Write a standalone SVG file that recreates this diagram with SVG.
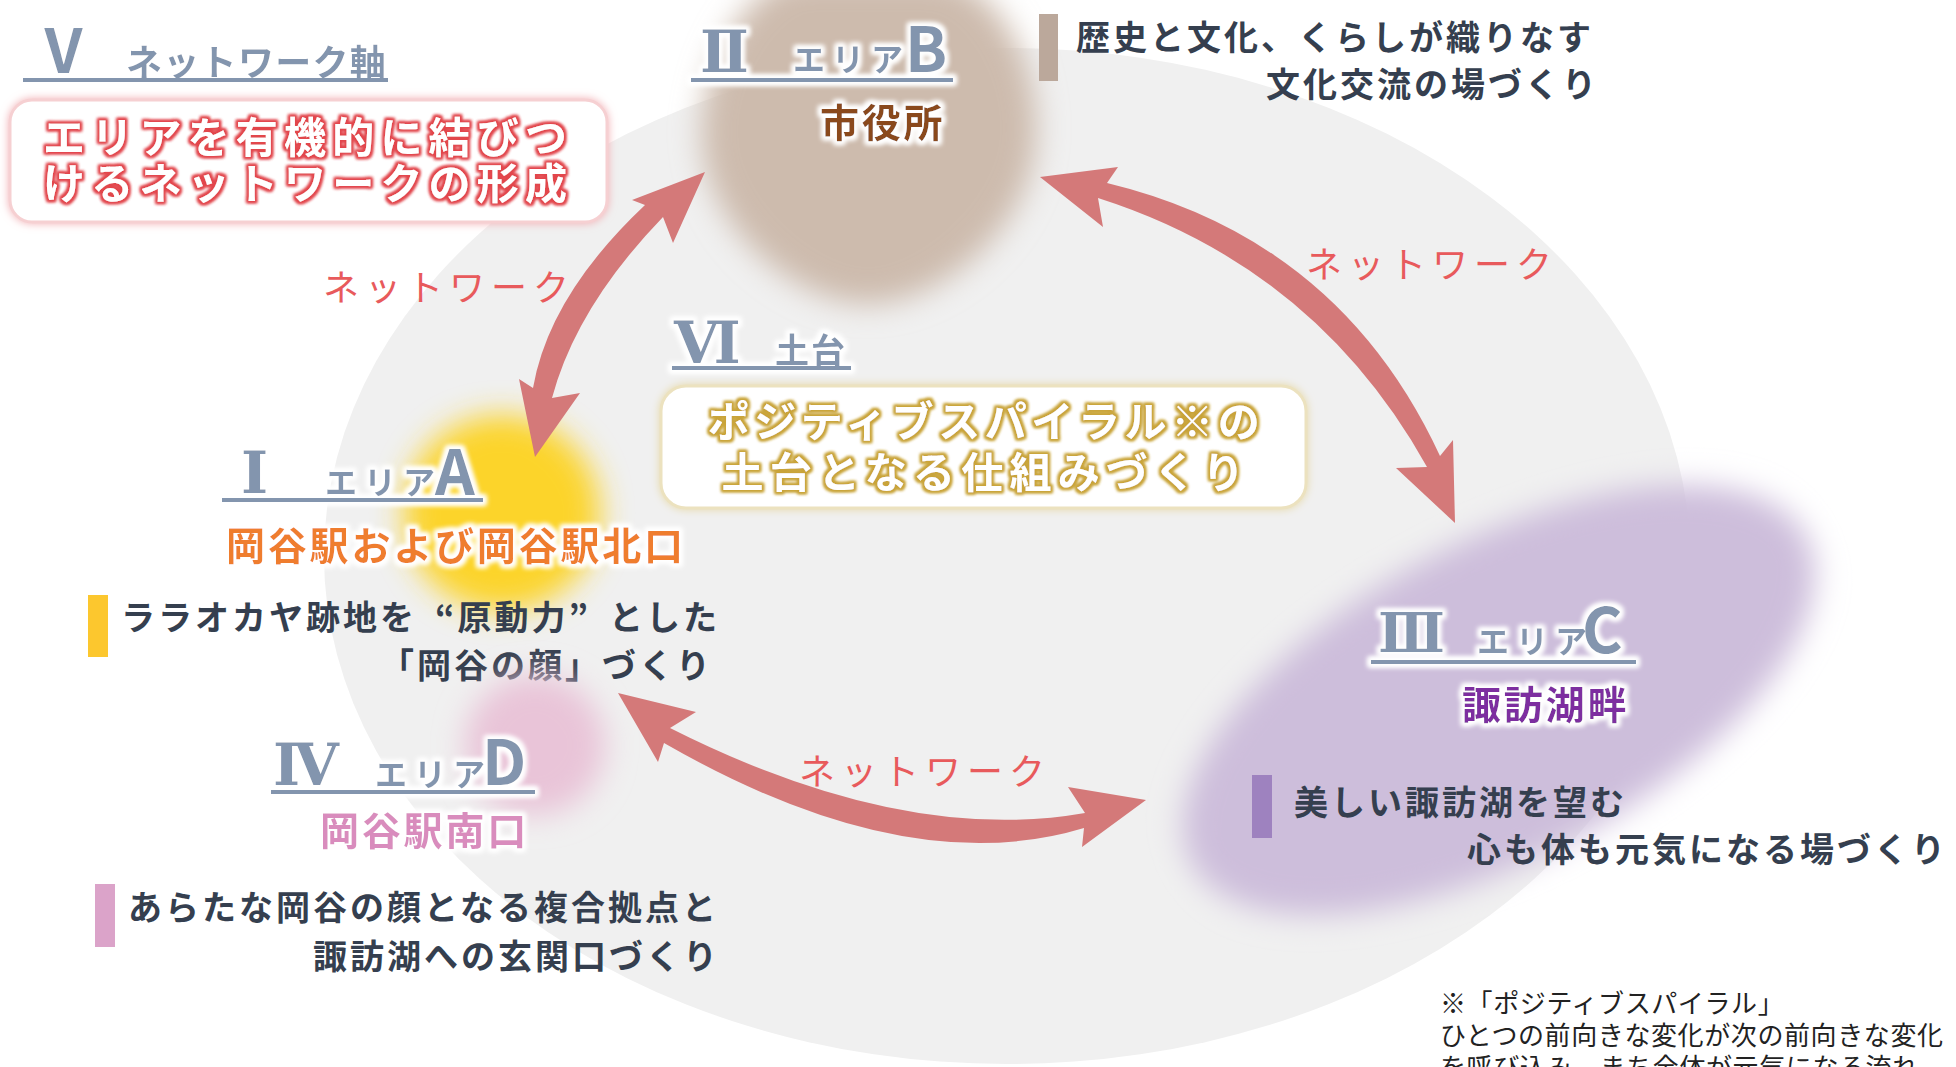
<svg xmlns="http://www.w3.org/2000/svg" width="1956" height="1067" viewBox="0 0 1956 1067">
<defs>
<style>
text{font-family:'Noto Sans CJK JP','Noto Sans',sans-serif}
.hn{font-family:'DejaVu Serif','Noto Sans CJK JP',serif;font-size:58px;fill:#8395ae;font-weight:700}
.hv{font-size:61px;fill:#8395ae;font-weight:700}
.hk{font-size:32px;letter-spacing:7px;fill:#8395ae;font-weight:700}
.hl{font-size:62px;fill:#8395ae;font-weight:700}
.ul{fill:#8395ae}
.desc{font-size:34px;letter-spacing:3px;fill:#353f4f;font-weight:700}
.net{font-size:36px;letter-spacing:6px;fill:#e85a5c;font-weight:400}
.place{font-size:39px;letter-spacing:2.8px;font-weight:700}
.boxtxt{font-size:42px;letter-spacing:6.2px;fill:#ffffff;font-weight:700}
.note{font-size:26px;letter-spacing:0.6px;fill:#222222;font-weight:400}
.arrow{fill:#d47979}
</style>
<filter id="glowW" x="-10%" y="-40%" width="120%" height="180%">
<feMorphology in="SourceAlpha" operator="dilate" radius="2.5" result="d"/>
<feGaussianBlur in="d" stdDeviation="2.5" result="b"/>
<feFlood flood-color="#ffffff"/>
<feComposite in2="b" operator="in" result="g"/>
<feMerge><feMergeNode in="g"/><feMergeNode in="g"/><feMergeNode in="SourceGraphic"/></feMerge>
</filter>
<filter id="glowR" x="-10%" y="-40%" width="120%" height="180%">
<feMorphology in="SourceAlpha" operator="dilate" radius="1.6" result="d"/>
<feGaussianBlur in="d" stdDeviation="1.8" result="b"/>
<feFlood flood-color="#e2464c"/>
<feComposite in2="b" operator="in" result="g"/>
<feMerge><feMergeNode in="g"/><feMergeNode in="g"/><feMergeNode in="SourceGraphic"/></feMerge>
</filter>
<filter id="glowG" x="-10%" y="-40%" width="120%" height="180%">
<feMorphology in="SourceAlpha" operator="dilate" radius="1.6" result="d"/>
<feGaussianBlur in="d" stdDeviation="1.8" result="b"/>
<feFlood flood-color="#c9a43a"/>
<feComposite in2="b" operator="in" result="g"/>
<feMerge><feMergeNode in="g"/><feMergeNode in="g"/><feMergeNode in="SourceGraphic"/></feMerge>
</filter>
<filter id="boxP" x="-5%" y="-20%" width="110%" height="140%">
<feGaussianBlur in="SourceAlpha" stdDeviation="4" result="b"/>
<feFlood flood-color="#f2aeb3"/>
<feComposite in2="b" operator="in" result="g"/>
<feMerge><feMergeNode in="g"/><feMergeNode in="SourceGraphic"/></feMerge>
</filter>
<filter id="boxG" x="-5%" y="-20%" width="110%" height="140%">
<feGaussianBlur in="SourceAlpha" stdDeviation="4" result="b"/>
<feFlood flood-color="#e6d8a6"/>
<feComposite in2="b" operator="in" result="g"/>
<feMerge><feMergeNode in="g"/><feMergeNode in="SourceGraphic"/></feMerge>
</filter>
<filter id="blur" x="-50%" y="-50%" width="200%" height="200%">
<feGaussianBlur stdDeviation="15"/>
</filter>
</defs>

<rect width="1956" height="1067" fill="#ffffff"/>
<g id="background">
<ellipse cx="1007" cy="556" rx="683" ry="508" fill="#f0f0f0"/>
</g>

<g id="node-B">
<path d="M868,304 C798,304 712,232 703,150 C695,80 740,-14 800,-24 L940,-24 C1000,-14 1045,70 1035,150 C1025,232 938,304 868,304 Z" fill="#cdbbad" filter="url(#blur)"/>
<g filter="url(#glowW)">
<text class="hk" y="71"><tspan class="hn" x="700" y="72">Ⅱ</tspan><tspan x="793" y="71">エリア</tspan><tspan class="hl" x="905" y="72">B</tspan></text>
<rect class="ul" x="691" y="78" width="262" height="4"/>
</g>
<text class="place" x="820" y="137" fill="#8a4a1c" filter="url(#glowW)">市役所</text>
<rect x="1039" y="14" width="19" height="67" fill="#bba89b"/>
<text class="desc" x="1076" y="50">歴史と文化、くらしが織りなす</text>
<text class="desc" x="1266" y="97">文化交流の場づくり</text>
</g>

<g id="node-A">
<circle cx="502" cy="513" r="98" fill="#fcd42a" filter="url(#blur)"/>
<g filter="url(#glowW)">
<text class="hk" y="494"><tspan class="hn" x="241" y="493">Ⅰ</tspan><tspan x="325" y="494">エリア</tspan><tspan class="hl" x="435" y="495">A</tspan></text>
<rect class="ul" x="222" y="498" width="261" height="4"/>
</g>
<text class="place" x="226" y="560" fill="#ef7d2d" filter="url(#glowW)">岡谷駅および岡谷駅北口</text>
<rect x="88" y="595" width="20" height="62" fill="#fcc72e"/>
<text class="desc" x="121" y="630">ララオカヤ跡地を<tspan dx="18">“</tspan>原動力”<tspan dx="18">とした</tspan></text>
<text class="desc" x="380" y="678">「岡谷の顔」づくり</text>
</g>

<g id="node-D">
<circle cx="535" cy="745" r="70" fill="#e9c4d8" filter="url(#blur)"/>
<g filter="url(#glowW)">
<text class="hk" y="786"><tspan class="hn" x="273" y="785">Ⅳ</tspan><tspan x="375" y="786">エリア</tspan><tspan class="hl" x="482" y="785">D</tspan></text>
<rect class="ul" x="271" y="790" width="264" height="4"/>
</g>
<text class="place" x="320" y="845" fill="#d98cbd" filter="url(#glowW)">岡谷駅南口</text>
<rect x="95" y="884" width="20" height="63" fill="#dba3c9"/>
<text class="desc" x="128" y="920">あらたな岡谷の顔となる複合拠点と</text>
<text class="desc" x="313" y="969">諏訪湖への玄関口づくり</text>
</g>

<g id="node-C">
<ellipse cx="1499" cy="700" rx="348" ry="158" transform="rotate(-28 1499 700)" fill="#cdbedb" filter="url(#blur)"/>
<g filter="url(#glowW)">
<text class="hk" y="653"><tspan class="hn" x="1378" y="652" style="font-size:55px">Ⅲ</tspan><tspan x="1477" y="653">エリア</tspan><tspan class="hl" x="1582" y="653">C</tspan></text>
<rect class="ul" x="1371" y="660" width="265" height="4"/>
</g>
<text class="place" x="1462" y="719" fill="#7d2fa0" filter="url(#glowW)">諏訪湖畔</text>
<rect x="1252" y="775" width="20" height="63" fill="#9e82bf"/>
<text class="desc" x="1294" y="815">美しい諏訪湖を望む</text>
<text class="desc" x="1467" y="862">心も体も元気になる場づくり</text>
</g>

<g id="node-V">
<g filter="url(#glowW)">
<text class="hk" y="76" style="font-size:36px;letter-spacing:1.3px"><tspan class="hv" x="33" y="73">Ⅴ</tspan><tspan x="126" y="76">ネットワーク軸</tspan></text>
<rect class="ul" x="23" y="78" width="365" height="4"/>
</g>
<rect x="10" y="100" width="597" height="122" rx="22" fill="#ffffff" stroke="#f6d0d2" stroke-width="3" filter="url(#boxP)"/>
<g filter="url(#glowR)">
<text class="boxtxt" x="43" y="153">エリアを有機的に結びつ</text>
<text class="boxtxt" x="43" y="199">けるネットワークの形成</text>
</g>
</g>

<g id="node-VI">
<g filter="url(#glowW)">
<text class="hk" y="363" style="font-size:34px;letter-spacing:2px"><tspan class="hn" x="674" y="363">Ⅵ</tspan><tspan x="775" y="363">土台</tspan></text>
<rect class="ul" x="672" y="366" width="179" height="4"/>
</g>
<rect x="661" y="386" width="645" height="122" rx="25" fill="#ffffff" stroke="#ece2bf" stroke-width="3" filter="url(#boxG)"/>
<g filter="url(#glowG)">
<text class="boxtxt" x="986" y="437" text-anchor="middle" style="letter-spacing:4.6px">ポジティブスパイラル※の</text>
<text class="boxtxt" x="986" y="488" text-anchor="middle">土台となる仕組みづくり</text>
</g>
</g>

<g id="connectors">
<path id="conn-AB" class="arrow" d="M535,457 L519,379 L533,388 Q549,295.5 645,205 L632,200 L705,172 L673,243 L663,217 Q576.5,306.5 552,398 L580,393 Z"/>
<path id="conn-BC" class="arrow" d="M1040,177 L1118,167 L1107,183 Q1339.5,239 1440,456 L1453,440 L1455,523 L1396,468 L1427,467 Q1315.7,267.5 1098,198 L1103,227 Z"/>
<path id="conn-DC" class="arrow" d="M618,693 L696,712 L670,728 Q902,845 1085,813 L1068,787 L1146,800 L1082,847 L1084,828 Q906,882 664,743 L658,762 Z"/>
<text class="net" x="323" y="301">ネットワーク</text>
<text class="net" x="1306" y="278">ネットワーク</text>
<text class="net" x="799" y="785">ネットワーク</text>
</g>

<g id="note">
<text class="note" x="1440" y="1013">※「ポジティブスパイラル」</text>
<text class="note" x="1440" y="1045">ひとつの前向きな変化が次の前向きな変化</text>
<text class="note" x="1440" y="1077">を呼び込み、まち全体が元気になる流れ。</text>
</g>
</svg>
